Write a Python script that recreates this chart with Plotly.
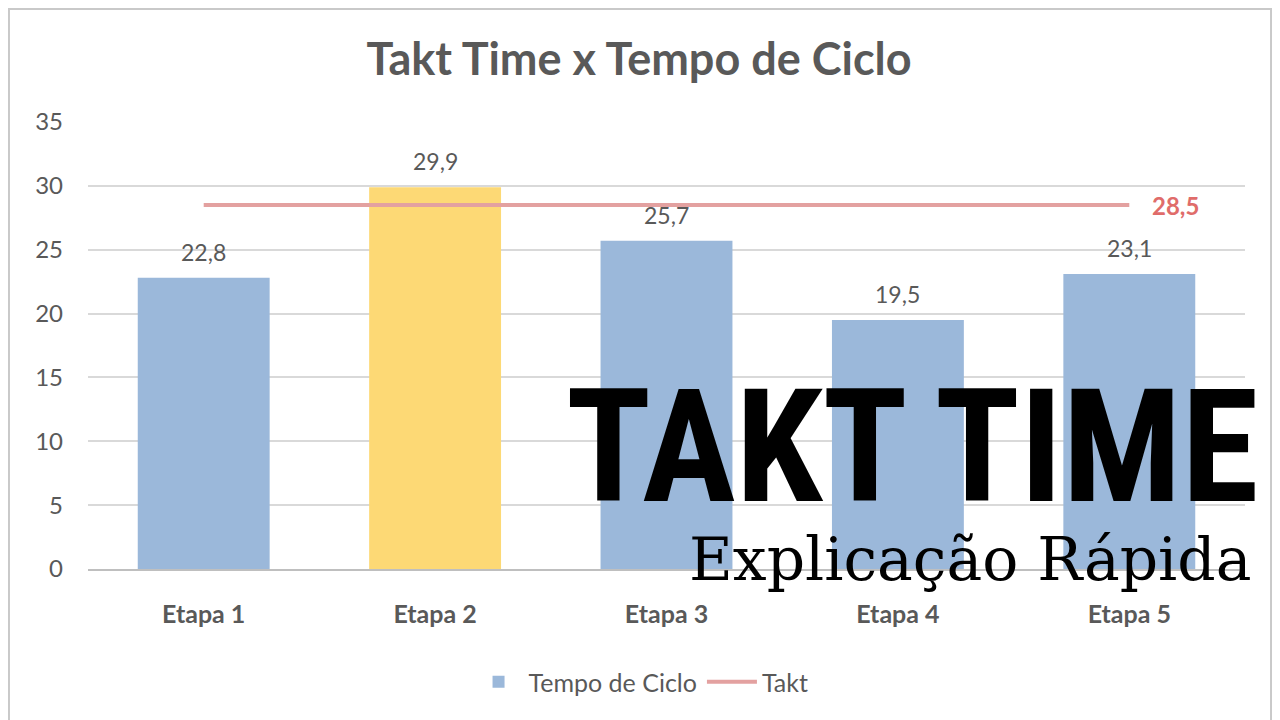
import plotly.graph_objects as go

categories = ["Etapa 1", "Etapa 2", "Etapa 3", "Etapa 4", "Etapa 5"]
tempo_ciclo = [22.8, 29.9, 25.7, 19.5, 23.1]
takt = [28.5, 28.5, 28.5, 28.5, 28.5]
bar_colors = ["#9BB8DA", "#FDD975", "#9BB8DA", "#9BB8DA", "#9BB8DA"]
y_ticks = [0, 5, 10, 15, 20, 25, 30, 35]

title_text = "Takt Time x Tempo de Ciclo"
overlay_title = "TAKT TIME"
overlay_sub = "Explicação Rápida"

GRAY = "#595959"
BASE_FONT = "Lato, Carlito, Calibri, 'Open Sans', sans-serif"

fig = go.Figure()
fig.add_trace(go.Bar(
    x=categories, y=tempo_ciclo, name="Tempo de Ciclo",
    marker=dict(color=bar_colors, line=dict(width=0)),
))
fig.add_trace(go.Scatter(
    x=categories, y=takt, name="Takt", mode="lines",
    line=dict(color="#E3A1A0", width=4),
))

# data labels
for c, v in zip(categories, tempo_ciclo):
    fig.add_annotation(x=c, y=v, text=f"{v:.1f}".replace(".", ","),
                       showarrow=False, yanchor="bottom", yshift=10,
                       font=dict(size=23, color=GRAY, family=BASE_FONT))
# takt label
fig.add_annotation(x=categories[-1], y=takt[-1], text=f"<b>{takt[-1]:.1f}</b>".replace(".", ","),
                   showarrow=False, xanchor="left", yanchor="middle", xshift=21,
                   font=dict(size=24, color="#E06C6A", family=BASE_FONT))

# overlay texts
fig.add_annotation(xref="paper", yref="paper", x=1.0135, y=0.273, text=f"<b>{overlay_title}</b>",
                   showarrow=False, xanchor="right", yanchor="middle",
                   font=dict(size=157, color="#000000",
                             family="'Roboto Condensed', 'Open Sans Condensed', sans-serif"))
fig.add_annotation(xref="paper", yref="paper", x=1.0065, y=0.022, text=overlay_sub,
                   showarrow=False, xanchor="right", yanchor="middle",
                   font=dict(size=60, color="#000000", family="'DejaVu Serif', serif"))

# outer border
fig.add_shape(type="rect", xref="paper", yref="paper",
              x0=-0.0683, x1=1.0225, y0=-0.4, y1=1.2528,
              line=dict(color="#C9C9C9", width=2), fillcolor="rgba(0,0,0,0)", layer="below")

fig.update_layout(
    width=1280, height=720,
    paper_bgcolor="white", plot_bgcolor="white",
    margin=dict(l=80, r=43, t=114, b=159),
    title=dict(text=f"<b>{title_text}</b>", x=0.493, xanchor="center", y=0.929, yanchor="middle",
               font=dict(size=45, color=GRAY, family=BASE_FONT)),
    bargap=0.43,
    showlegend=True,
    legend=dict(orientation="h", x=0.478, xanchor="center", y=-0.2528, yanchor="middle",
                font=dict(size=25, color=GRAY, family=BASE_FONT), itemwidth=50),
    font=dict(family=BASE_FONT, color=GRAY),
)
fig.update_xaxes(showgrid=False, showline=True, linecolor="#BFBFBF", linewidth=2,
                 ticks="", ticklabelstandoff=22,
                 tickfont=dict(size=25, color=GRAY, family=BASE_FONT),
                 tickprefix="<b>", ticksuffix="</b>")
fig.update_yaxes(range=[0, 35], tickvals=y_ticks, showgrid=True, gridcolor="#D9D9D9", gridwidth=2,
                 zeroline=False, showline=False, ticks="", ticklabelstandoff=24,
                 tickfont=dict(size=24, color=GRAY, family=BASE_FONT))

fig.write_html("out.html")
